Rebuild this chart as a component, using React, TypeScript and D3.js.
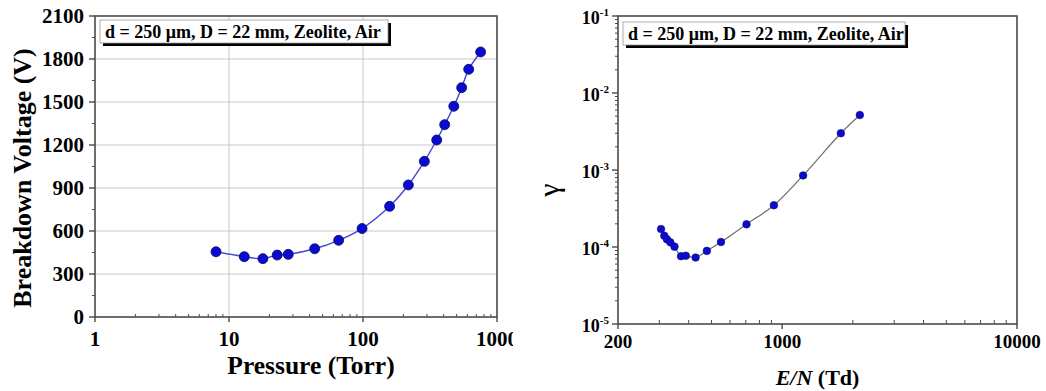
import * as d3 from "d3";

// left panel: breakdown voltage vs pressure
const pressure = [8, 13, 17.9, 22.9, 27.7, 43.6, 65.8, 98.4, 158, 218, 287, 355, 407, 476, 545, 615, 755];
const voltage = [455, 421, 407, 432, 437, 476, 535, 617, 772, 921, 1086, 1235, 1342, 1470, 1600, 1728, 1849];
const voltTicks = [0, 300, 600, 900, 1200, 1500, 1800, 2100];
const pressTicks = [1, 10, 100, 1000];

// right panel: gamma vs E/N
const reducedField = [305, 315, 323, 334, 348, 371, 389, 428, 478, 549, 705, 922, 1228, 1778, 2142];
const gamma = [1.71e-4, 1.4e-4, 1.26e-4, 1.15e-4, 1.01e-4, 7.6e-5, 7.7e-5, 7.3e-5, 8.9e-5, 1.16e-4, 1.97e-4, 3.48e-4, 8.5e-4, 3.0e-3, 5.18e-3];
const gammaExps = [-1, -2, -3, -4, -5];
const fieldTicks = [200, 1000, 10000];

const legendText = "d = 250 \u03bcm, D = 22 mm, Zeolite, Air";
const FONT = "'Liberation Serif', 'Times New Roman', serif";
const FRAME = "#4a4a4a";

const Legend = ({ x, y, w, h }: { x: number; y: number; w: number; h: number }) => (
  <g>
    <rect x={x + 3} y={y + 3} width={w} height={h} fill="#000" />
    <rect x={x} y={y} width={w} height={h} fill="#fff" stroke="#999" strokeWidth={0.8} />
    <text x={x + 5} y={y + h / 2 + 6} fontSize={18} fontWeight="bold" fontFamily={FONT}>
      {legendText}
    </text>
  </g>
);

const LeftChart = () => {
  const m = { left: 95, top: 16, right: 497, bottom: 317 };
  const x = d3.scaleLog().domain([1, 1000]).range([m.left, m.right]);
  const y = d3.scaleLinear().domain([0, 2100]).range([m.bottom, m.top]);
  const minorX = x.ticks().filter((t) => !pressTicks.includes(t));
  const minorY = d3.range(150, 2100, 300);
  const pts = pressure.map((p, i) => [x(p), y(voltage[i])] as [number, number]);
  const line = d3.line().curve(d3.curveCatmullRom.alpha(0.5))(pts) ?? "";

  return (
    <g clipPath="url(#leftClip)">
      {/* grid */}
      {voltTicks.slice(1, -1).map((t) => (
        <line key={"gy" + t} x1={m.left} x2={m.right} y1={y(t)} y2={y(t)} stroke="#c8c8c8" strokeWidth={1} />
      ))}
      {pressTicks.slice(1, -1).map((t) => (
        <line key={"gx" + t} x1={x(t)} x2={x(t)} y1={m.top} y2={m.bottom} stroke="#c8c8c8" strokeWidth={1} />
      ))}
      <rect x={m.left} y={m.top} width={m.right - m.left} height={m.bottom - m.top} fill="none" stroke={FRAME} strokeWidth={1.6} />

      {/* y axis ticks */}
      {voltTicks.map((t) => (
        <g key={"yt" + t}>
          <line x1={m.left - 6} x2={m.left} y1={y(t)} y2={y(t)} stroke={FRAME} strokeWidth={1.4} />
          <text x={m.left - 11} y={y(t) + 7} textAnchor="end" fontSize={21} fontWeight="bold" fontFamily={FONT}>
            {t}
          </text>
        </g>
      ))}
      {minorY.map((t) => (
        <line key={"ym" + t} x1={m.left - 3} x2={m.left} y1={y(t)} y2={y(t)} stroke={FRAME} strokeWidth={1} />
      ))}

      {/* x axis ticks */}
      {pressTicks.map((t) => (
        <g key={"xt" + t}>
          <line x1={x(t)} x2={x(t)} y1={m.bottom} y2={m.bottom + 5} stroke={FRAME} strokeWidth={1.4} />
          <text x={x(t)} y={m.bottom + 29} textAnchor="middle" fontSize={21} fontWeight="bold" fontFamily={FONT}>
            {t}
          </text>
        </g>
      ))}
      {minorX.map((t) => (
        <line key={"xm" + t} x1={x(t)} x2={x(t)} y1={m.bottom - 3} y2={m.bottom} stroke={FRAME} strokeWidth={1} />
      ))}

      <path d={line} fill="none" stroke="#4646d2" strokeWidth={1.4} />
      {pts.map(([cx, cy], i) => (
        <circle key={i} cx={cx} cy={cy} r={5} fill="#0a0ad0" stroke="#0a0a60" strokeWidth={0.8} />
      ))}

      <Legend x={100} y={20} w={288} h={23} />

      <text x={311} y={374} textAnchor="middle" fontSize={25.5} fontWeight="bold" fontFamily={FONT}>
        Pressure (Torr)
      </text>
      <text
        transform={`translate(31, 178) rotate(-90)`}
        textAnchor="middle"
        fontSize={26}
        fontWeight="bold"
        fontFamily={FONT}
      >
        Breakdown Voltage (V)
      </text>
    </g>
  );
};

const RightChart = () => {
  const m = { left: 618, top: 16, right: 1017, bottom: 324 };
  const x = d3.scaleLog().domain([200, 10000]).range([m.left, m.right]);
  const y = d3.scaleLog().domain([1e-5, 1e-1]).range([m.bottom, m.top]);
  const minorX = x.ticks().filter((t) => !fieldTicks.includes(t));
  const minorY = y.ticks().filter((t) => Math.abs(Math.log10(t) - Math.round(Math.log10(t))) > 1e-6);
  const pts = reducedField.map((e, i) => [x(e), y(gamma[i])] as [number, number]);
  const line = d3.line().curve(d3.curveCatmullRom.alpha(0.5))(pts) ?? "";

  return (
    <g>
      <rect x={m.left} y={m.top} width={m.right - m.left} height={m.bottom - m.top} fill="none" stroke={FRAME} strokeWidth={1.6} />

      {gammaExps.map((e) => (
        <g key={"yt" + e}>
          <line x1={m.left - 6} x2={m.left} y1={y(10 ** e)} y2={y(10 ** e)} stroke={FRAME} strokeWidth={1.4} />
          <text x={m.left - 9} y={y(10 ** e) + 8} textAnchor="end" fontWeight="bold" fontFamily={FONT} fontSize={18}>
            10
            <tspan dy={-8} fontSize={11}>
              {e}
            </tspan>
          </text>
        </g>
      ))}
      {minorY.map((t) => (
        <line key={"ym" + t} x1={m.left - 3} x2={m.left} y1={y(t)} y2={y(t)} stroke={FRAME} strokeWidth={1} />
      ))}

      {fieldTicks.map((t) => (
        <g key={"xt" + t}>
          <line x1={x(t)} x2={x(t)} y1={m.bottom} y2={m.bottom + 5} stroke={FRAME} strokeWidth={1.4} />
          <text x={x(t)} y={m.bottom + 24} textAnchor="middle" fontSize={19} fontWeight="bold" fontFamily={FONT}>
            {t}
          </text>
        </g>
      ))}
      {minorX.map((t) => (
        <line key={"xm" + t} x1={x(t)} x2={x(t)} y1={m.bottom - 4} y2={m.bottom} stroke={FRAME} strokeWidth={1} />
      ))}

      <path d={line} fill="none" stroke="#6e6e6e" strokeWidth={1.2} />
      {pts.map(([cx, cy], i) => (
        <circle key={i} cx={cx} cy={cy} r={3.8} fill="#0a0ad0" stroke="#0a0a70" strokeWidth={0.6} />
      ))}

      <Legend x={623} y={22} w={282} h={23} />

      <text x={(m.left + m.right) / 2} y={385} textAnchor="middle" fontSize={22} fontWeight="bold" fontFamily={FONT}>
        <tspan fontStyle="italic">E/N</tspan> (Td)
      </text>
      <text
        transform={`translate(559, 190) rotate(-90)`}
        textAnchor="middle"
        fontSize={30}
        fontFamily={FONT}
      >
        {"\u03b3"}
      </text>
    </g>
  );
};

const App = () => (
  <>
    <style>{`body{margin:0}`}</style>
    <svg width={1046} height={391} style={{ display: "block", background: "#fff" }}>
      <defs>
        <clipPath id="leftClip">
          <rect x={0} y={0} width={513} height={391} />
        </clipPath>
      </defs>
      <LeftChart />
      <RightChart />
    </svg>
  </>
);

export default App;
